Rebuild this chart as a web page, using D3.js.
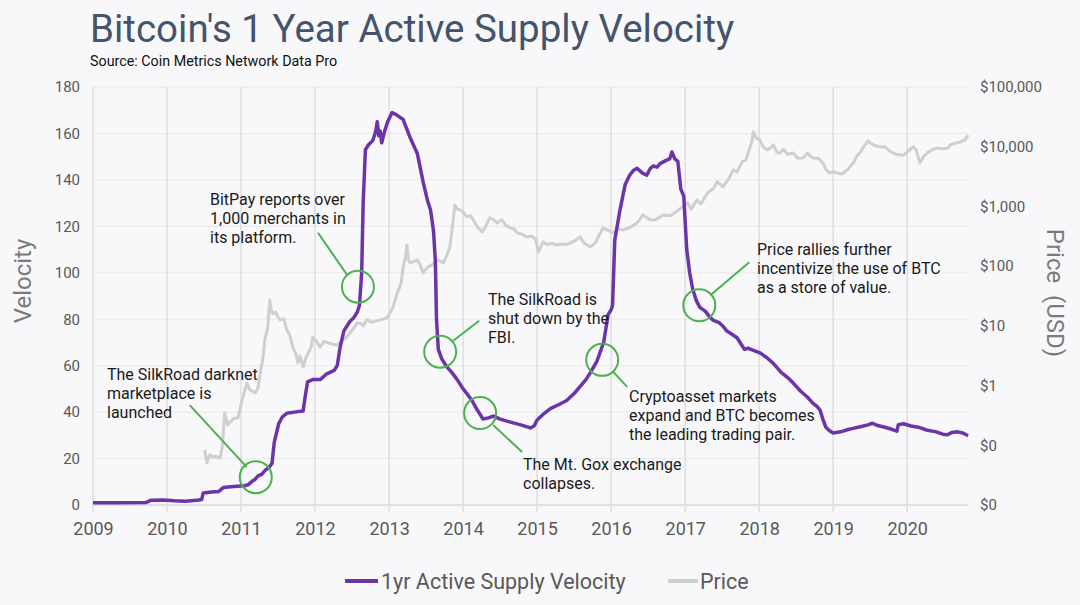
<!DOCTYPE html>
<html>
<head>
<meta charset="utf-8">
<script src="https://cdn.jsdelivr.net/npm/d3@7"></script>
<style>
  html, body { margin: 0; padding: 0; background: #f8f8fa; }
  svg { display: block; font-family: Roboto, "Noto Sans", sans-serif; }
</style>
</head>
<body>
<svg id="chart" width="1080" height="605"></svg>
<script>
// ---------------- DATA ----------------
const title = "Bitcoin's 1 Year Active Supply Velocity";
const subtitle = "Source: Coin Metrics Network Data Pro";
const seriesNames = ["1yr Active Supply Velocity", "Price"];
const yearTicks = [2009, 2010, 2011, 2012, 2013, 2014, 2015, 2016, 2017, 2018, 2019, 2020];
const velocityTicks = [0, 20, 40, 60, 80, 100, 120, 140, 160, 180];
const priceTicks = [0.01, 0.1, 1, 10, 100, 1000, 10000, 100000];

// [decimal year, velocity]
const velocity = [
  [2009.00,1.0],[2009.40,1.0],[2009.72,1.1],[2009.78,2.0],[2009.95,2.2],[2010.10,1.8],[2010.25,1.6],
  [2010.40,2.0],[2010.47,2.4],[2010.49,5.2],[2010.60,5.6],[2010.70,5.8],[2010.76,7.5],[2010.90,8.0],
  [2011.05,8.3],[2011.10,8.8],[2011.15,10.2],[2011.19,11.0],[2011.23,12.5],[2011.28,13.2],[2011.33,15.0],
  [2011.38,16.2],[2011.42,18],[2011.45,27],[2011.48,31],[2011.51,35],[2011.56,38],[2011.62,39.5],
  [2011.72,40],[2011.84,40.5],[2011.87,47],[2011.90,53],[2011.97,54],[2012.07,54],[2012.16,56.5],
  [2012.26,58],[2012.30,60],[2012.34,68],[2012.39,75],[2012.43,77],[2012.47,79],[2012.52,80.5],
  [2012.57,83],[2012.60,86],[2012.63,100],[2012.65,130],[2012.68,153],[2012.72,155],[2012.78,157],
  [2012.82,161],[2012.84,165],[2012.86,159],[2012.88,161],[2012.90,156],[2012.94,161],[2012.98,165],
  [2013.04,169],[2013.10,168],[2013.19,166],[2013.28,158.5],[2013.38,151.5],[2013.46,139],[2013.52,131],
  [2013.56,127],[2013.60,118],[2013.625,105],[2013.64,80],[2013.665,67],[2013.71,63],[2013.78,59.5],
  [2013.85,57],[2013.92,54],[2014.00,50],[2014.05,48],[2014.12,45],[2014.19,41],[2014.27,37],
  [2014.34,37.5],[2014.41,38.3],[2014.50,37],[2014.64,35.7],[2014.78,34.5],[2014.91,33.2],[2014.96,34],
  [2015.00,36.6],[2015.08,39],[2015.18,41.5],[2015.31,43.5],[2015.40,45],[2015.50,48],[2015.58,51],
  [2015.66,54],[2015.72,57],[2015.81,62],[2015.90,70],[2015.96,82],[2016.00,84],[2016.02,86],
  [2016.05,114],[2016.12,127],[2016.19,138],[2016.25,142],[2016.30,144],[2016.35,145],[2016.42,143],
  [2016.48,142],[2016.53,145],[2016.57,146],[2016.62,145.5],[2016.66,147],[2016.75,148.5],[2016.79,149],
  [2016.82,152],[2016.86,149],[2016.90,148],[2016.94,136],[2016.98,133],[2017.02,110],[2017.06,100],
  [2017.10,93],[2017.15,88],[2017.20,85],[2017.27,83.5],[2017.33,81],[2017.38,79.5],[2017.46,78.5],
  [2017.51,77],[2017.56,75],[2017.63,73.5],[2017.70,72],[2017.76,69],[2017.80,67],[2017.85,67.5],
  [2017.93,66.5],[2018.01,65.5],[2018.10,63.5],[2018.19,61],[2018.30,57],[2018.38,55],[2018.46,52.5],
  [2018.56,49],[2018.65,46.5],[2018.72,44],[2018.78,42.5],[2018.82,41],[2018.86,37],[2018.90,33.5],
  [2018.95,32],[2019.00,31],[2019.10,31.5],[2019.20,32.5],[2019.27,33],[2019.38,33.8],[2019.47,34.5],
  [2019.53,35.2],[2019.60,34.2],[2019.70,33.5],[2019.80,32.5],[2019.86,31.8],[2019.88,34.6],[2019.95,35],
  [2020.05,34],[2020.15,33.5],[2020.27,32.2],[2020.38,31.6],[2020.48,30.5],[2020.54,30.2],[2020.60,31.2],
  [2020.68,31.5],[2020.75,31],[2020.82,29.8]
];

// [decimal year, price USD]
const price = [
  [2010.51,0.083],[2010.54,0.051],[2010.58,0.07],[2010.61,0.064],[2010.66,0.065],[2010.72,0.062],
  [2010.75,0.1],[2010.78,0.35],[2010.82,0.22],[2010.85,0.24],[2010.90,0.28],[2010.96,0.29],
  [2011.02,0.6],[2011.08,1.1],[2011.12,0.85],[2011.19,0.75],[2011.23,0.9],[2011.26,1.6],[2011.30,3.0],
  [2011.32,5.8],[2011.36,9],[2011.39,27],[2011.41,18],[2011.43,16],[2011.47,17],[2011.50,14],
  [2011.53,12.6],[2011.58,13],[2011.62,8.5],[2011.66,7],[2011.70,4.4],[2011.74,3.5],[2011.77,2.4],
  [2011.80,3.1],[2011.84,2.05],[2011.88,3],[2011.91,3.5],[2011.95,4.5],[2011.97,6.5],[2012.02,5.5],
  [2012.07,4.4],[2012.12,5.5],[2012.18,5.2],[2012.24,4.9],[2012.30,4.8],[2012.38,5.8],[2012.43,6.5],
  [2012.47,7.6],[2012.52,9],[2012.57,11.2],[2012.62,11],[2012.65,10],[2012.70,12.6],[2012.76,11.5],
  [2012.82,12],[2012.88,12.6],[2012.94,13.2],[2012.97,13.6],[2013.05,20],[2013.11,35.6],[2013.16,50],
  [2013.19,97],[2013.22,140],[2013.24,226],[2013.26,130],[2013.28,113],[2013.33,120],[2013.38,127],
  [2013.42,105],[2013.46,77],[2013.50,90],[2013.53,97],[2013.58,105],[2013.65,127],[2013.70,120],
  [2013.73,113],[2013.78,150],[2013.82,210],[2013.85,400],[2013.89,1060],[2013.92,900],[2013.96,874],
  [2014.00,800],[2014.05,667],[2014.10,700],[2014.15,560],[2014.19,454],[2014.26,374],[2014.30,450],
  [2014.36,642],[2014.41,600],[2014.46,530],[2014.52,600],[2014.58,480],[2014.64,436],[2014.69,420],
  [2014.73,360],[2014.80,340],[2014.86,308],[2014.93,320],[2014.98,280],[2015.02,173],[2015.08,254],
  [2015.13,230],[2015.20,240],[2015.27,226],[2015.33,235],[2015.40,230],[2015.45,245],[2015.52,270],
  [2015.58,308],[2015.64,240],[2015.72,210],[2015.78,240],[2015.84,330],[2015.89,436],[2015.95,400],
  [2016.03,360],[2016.10,420],[2016.16,404],[2016.25,440],[2016.35,530],[2016.43,721],[2016.48,650],
  [2016.53,594],[2016.60,600],[2016.70,721],[2016.80,700],[2016.91,874],[2016.97,1000],[2017.03,1145],
  [2017.08,900],[2017.16,1285],[2017.21,1100],[2017.30,1683],[2017.38,2000],[2017.43,2572],[2017.48,2300],
  [2017.51,2122],[2017.58,2800],[2017.65,4086],[2017.70,3800],[2017.77,5563],[2017.82,6000],[2017.85,7870],
  [2017.90,12000],[2017.92,17700],[2017.96,14000],[2018.01,13000],[2018.05,10000],[2018.11,8836],
  [2018.15,9500],[2018.19,10720],[2018.24,8000],[2018.28,7870],[2018.33,9000],[2018.38,7500],[2018.46,7870],
  [2018.52,6400],[2018.59,6490],[2018.65,7800],[2018.70,6800],[2018.73,6490],[2018.80,6400],[2018.86,5350],
  [2018.90,4200],[2018.95,3640],[2019.00,3800],[2019.05,3640],[2019.12,3500],[2019.19,4086],[2019.27,5350],
  [2019.32,7000],[2019.38,8500],[2019.41,9930],[2019.47,12500],[2019.50,11580],[2019.56,10500],[2019.64,9930],
  [2019.70,10000],[2019.76,8500],[2019.81,7870],[2019.86,7400],[2019.95,7200],[2020.02,8500],[2020.08,9930],
  [2020.12,9000],[2020.17,5350],[2020.22,6800],[2020.27,7870],[2020.33,8800],[2020.41,9550],[2020.48,9200],
  [2020.55,9500],[2020.58,10720],[2020.65,11500],[2020.72,12030],[2020.78,13000],[2020.82,15770]
];

// annotation anchors: [decimal year, velocity], and their text
const annotationAnchors = [[2011.20,12],[2012.58,94],[2013.69,66],[2014.23,39.6],[2015.88,62.5],[2017.19,86]];
const annotationTexts = [
  ["The SilkRoad darknet","marketplace is","launched"],
  ["BitPay reports over","1,000 merchants in","its platform."],
  ["The SilkRoad is","shut down by the","FBI."],
  ["The Mt. Gox exchange","collapses."],
  ["Cryptoasset markets","expand and BTC becomes","the leading trading pair."],
  ["Price rallies further","incentivize the use of BTC","as a store of value."]
];

// ---------------- LAYOUT / STYLE ----------------
const annLayout = [
  {line:[-9,-10,-66,-72], tx:107, ty:380},
  {line:[-11,-12,-40,-54], tx:210, ty:205},
  {line:[13,-11,39,-31], tx:488, ty:305},
  {line:[13,12,42,39], tx:523, ty:470},
  {line:[11,12,25,27], tx:629, ty:402},
  {line:[11,-10,50,-43], tx:757, ty:255}
];
const M = {left:93, right:968, top:87, bottom:505};
const purple = "#6b35a8", grayLine = "#cfcfcf", green = "#4caf50";
const textGray = "#595959";

function toDate(y) {
  const yr = Math.floor(y);
  const s = new Date(yr, 0, 1), e = new Date(yr + 1, 0, 1);
  return new Date(+s + (y - yr) * (e - s));
}

const svg = d3.select("#chart");
const x = d3.scaleTime().domain([new Date(2009,0,1), new Date(2020,9,27)]).range([M.left, M.right]);
const yL = d3.scaleLinear().domain([0,180]).range([M.bottom, M.top]);
const yR = d3.scaleLog().domain([0.01,100000]).range([M.bottom, M.top]);

// title
svg.append("text").attr("x",90).attr("y",42).attr("fill","#44546a")
  .attr("font-size",38.5).text(title);
svg.append("text").attr("x",90).attr("y",66).attr("fill","#111")
  .attr("font-size",14.3).text(subtitle);

// horizontal gridlines
svg.append("g").selectAll("line").data(velocityTicks).join("line")
  .attr("x1",M.left).attr("x2",M.right)
  .attr("y1",d=>yL(d)).attr("y2",d=>yL(d))
  .attr("stroke", d => d===0 ? "#d9d9d9" : "#e9e9ec").attr("stroke-width", d=> d===0?1.5:1);

// vertical year gridlines
svg.append("g").selectAll("line").data(yearTicks).join("line")
  .attr("x1",d=>x(new Date(d,0,1))).attr("x2",d=>x(new Date(d,0,1)))
  .attr("y1",M.top).attr("y2",M.bottom+7)
  .attr("stroke","#dedede").attr("stroke-width",1.5);

// left axis labels
const gL = svg.append("g").attr("transform",`translate(${M.left},0)`)
  .call(d3.axisLeft(yL).tickValues(velocityTicks).tickSize(0).tickPadding(13));
gL.select(".domain").remove();
gL.selectAll("text").attr("font-size",15).attr("fill",textGray).attr("font-family","Roboto");

// right axis labels
const fmt = d3.format("$,.0f");
const gR = svg.append("g").attr("transform",`translate(${M.right},0)`)
  .call(d3.axisRight(yR).tickValues(priceTicks).tickFormat(fmt).tickSize(0).tickPadding(12));
gR.select(".domain").remove();
gR.selectAll("text").attr("font-size",15).attr("fill",textGray).attr("font-family","Roboto");

// bottom axis labels
const gB = svg.append("g").attr("transform",`translate(0,${M.bottom})`)
  .call(d3.axisBottom(x).tickValues(yearTicks.map(y=>new Date(y,0,1))).tickFormat(d3.timeFormat("%Y")).tickSize(0).tickPadding(17));
gB.select(".domain").remove();
gB.selectAll("text").attr("font-size",18).attr("fill",textGray).attr("font-family","Roboto");

// axis titles
svg.append("text").attr("transform","translate(31,281) rotate(-90)")
  .attr("text-anchor","middle").attr("font-size",24).attr("fill","#7a7a7a").text("Velocity");
svg.append("text").attr("transform","translate(1047,293) rotate(90)")
  .attr("text-anchor","middle").attr("font-size",24).attr("fill","#7a7a7a")
  .attr("xml:space","preserve").style("white-space","pre").text("Price  (USD)");

// lines
const priceLine = d3.line().x(d=>x(toDate(d[0]))).y(d=>yR(d[1]));
const velLine = d3.line().x(d=>x(toDate(d[0]))).y(d=>yL(d[1]));
svg.append("path").datum(price).attr("d",priceLine).attr("fill","none")
  .attr("stroke",grayLine).attr("stroke-width",3).attr("stroke-linejoin","round");
svg.append("path").datum(velocity).attr("d",velLine).attr("fill","none")
  .attr("stroke",purple).attr("stroke-width",3.5).attr("stroke-linejoin","round");

// annotations
const ann = svg.append("g");
annotationAnchors.forEach((a,i)=>{
  const cx = x(toDate(a[0])), cy = yL(a[1]);
  const L = annLayout[i];
  ann.append("circle").attr("cx",cx).attr("cy",cy).attr("r",16)
    .attr("fill","none").attr("stroke",green).attr("stroke-width",2);
  ann.append("line").attr("x1",cx+L.line[0]).attr("y1",cy+L.line[1])
    .attr("x2",cx+L.line[2]).attr("y2",cy+L.line[3])
    .attr("stroke",green).attr("stroke-width",2);
  const t = ann.append("text").attr("x",L.tx).attr("y",L.ty).attr("font-size",16).attr("fill","#1a1a1a");
  annotationTexts[i].forEach((s,j)=>{
    t.append("tspan").attr("x",L.tx).attr("dy", j===0?0:18.8).text(s);
  });
});

// legend
const lg = svg.append("g");
lg.append("line").attr("x1",345).attr("x2",378).attr("y1",581).attr("y2",581)
  .attr("stroke",purple).attr("stroke-width",4);
lg.append("text").attr("x",381).attr("y",588.5).attr("font-size",21.5).attr("fill",textGray).text(seriesNames[0]);
lg.append("line").attr("x1",668).attr("x2",698).attr("y1",581).attr("y2",581)
  .attr("stroke",grayLine).attr("stroke-width",4);
lg.append("text").attr("x",700).attr("y",588.5).attr("font-size",21.5).attr("fill",textGray).text(seriesNames[1]);
</script>
</body>
</html>
